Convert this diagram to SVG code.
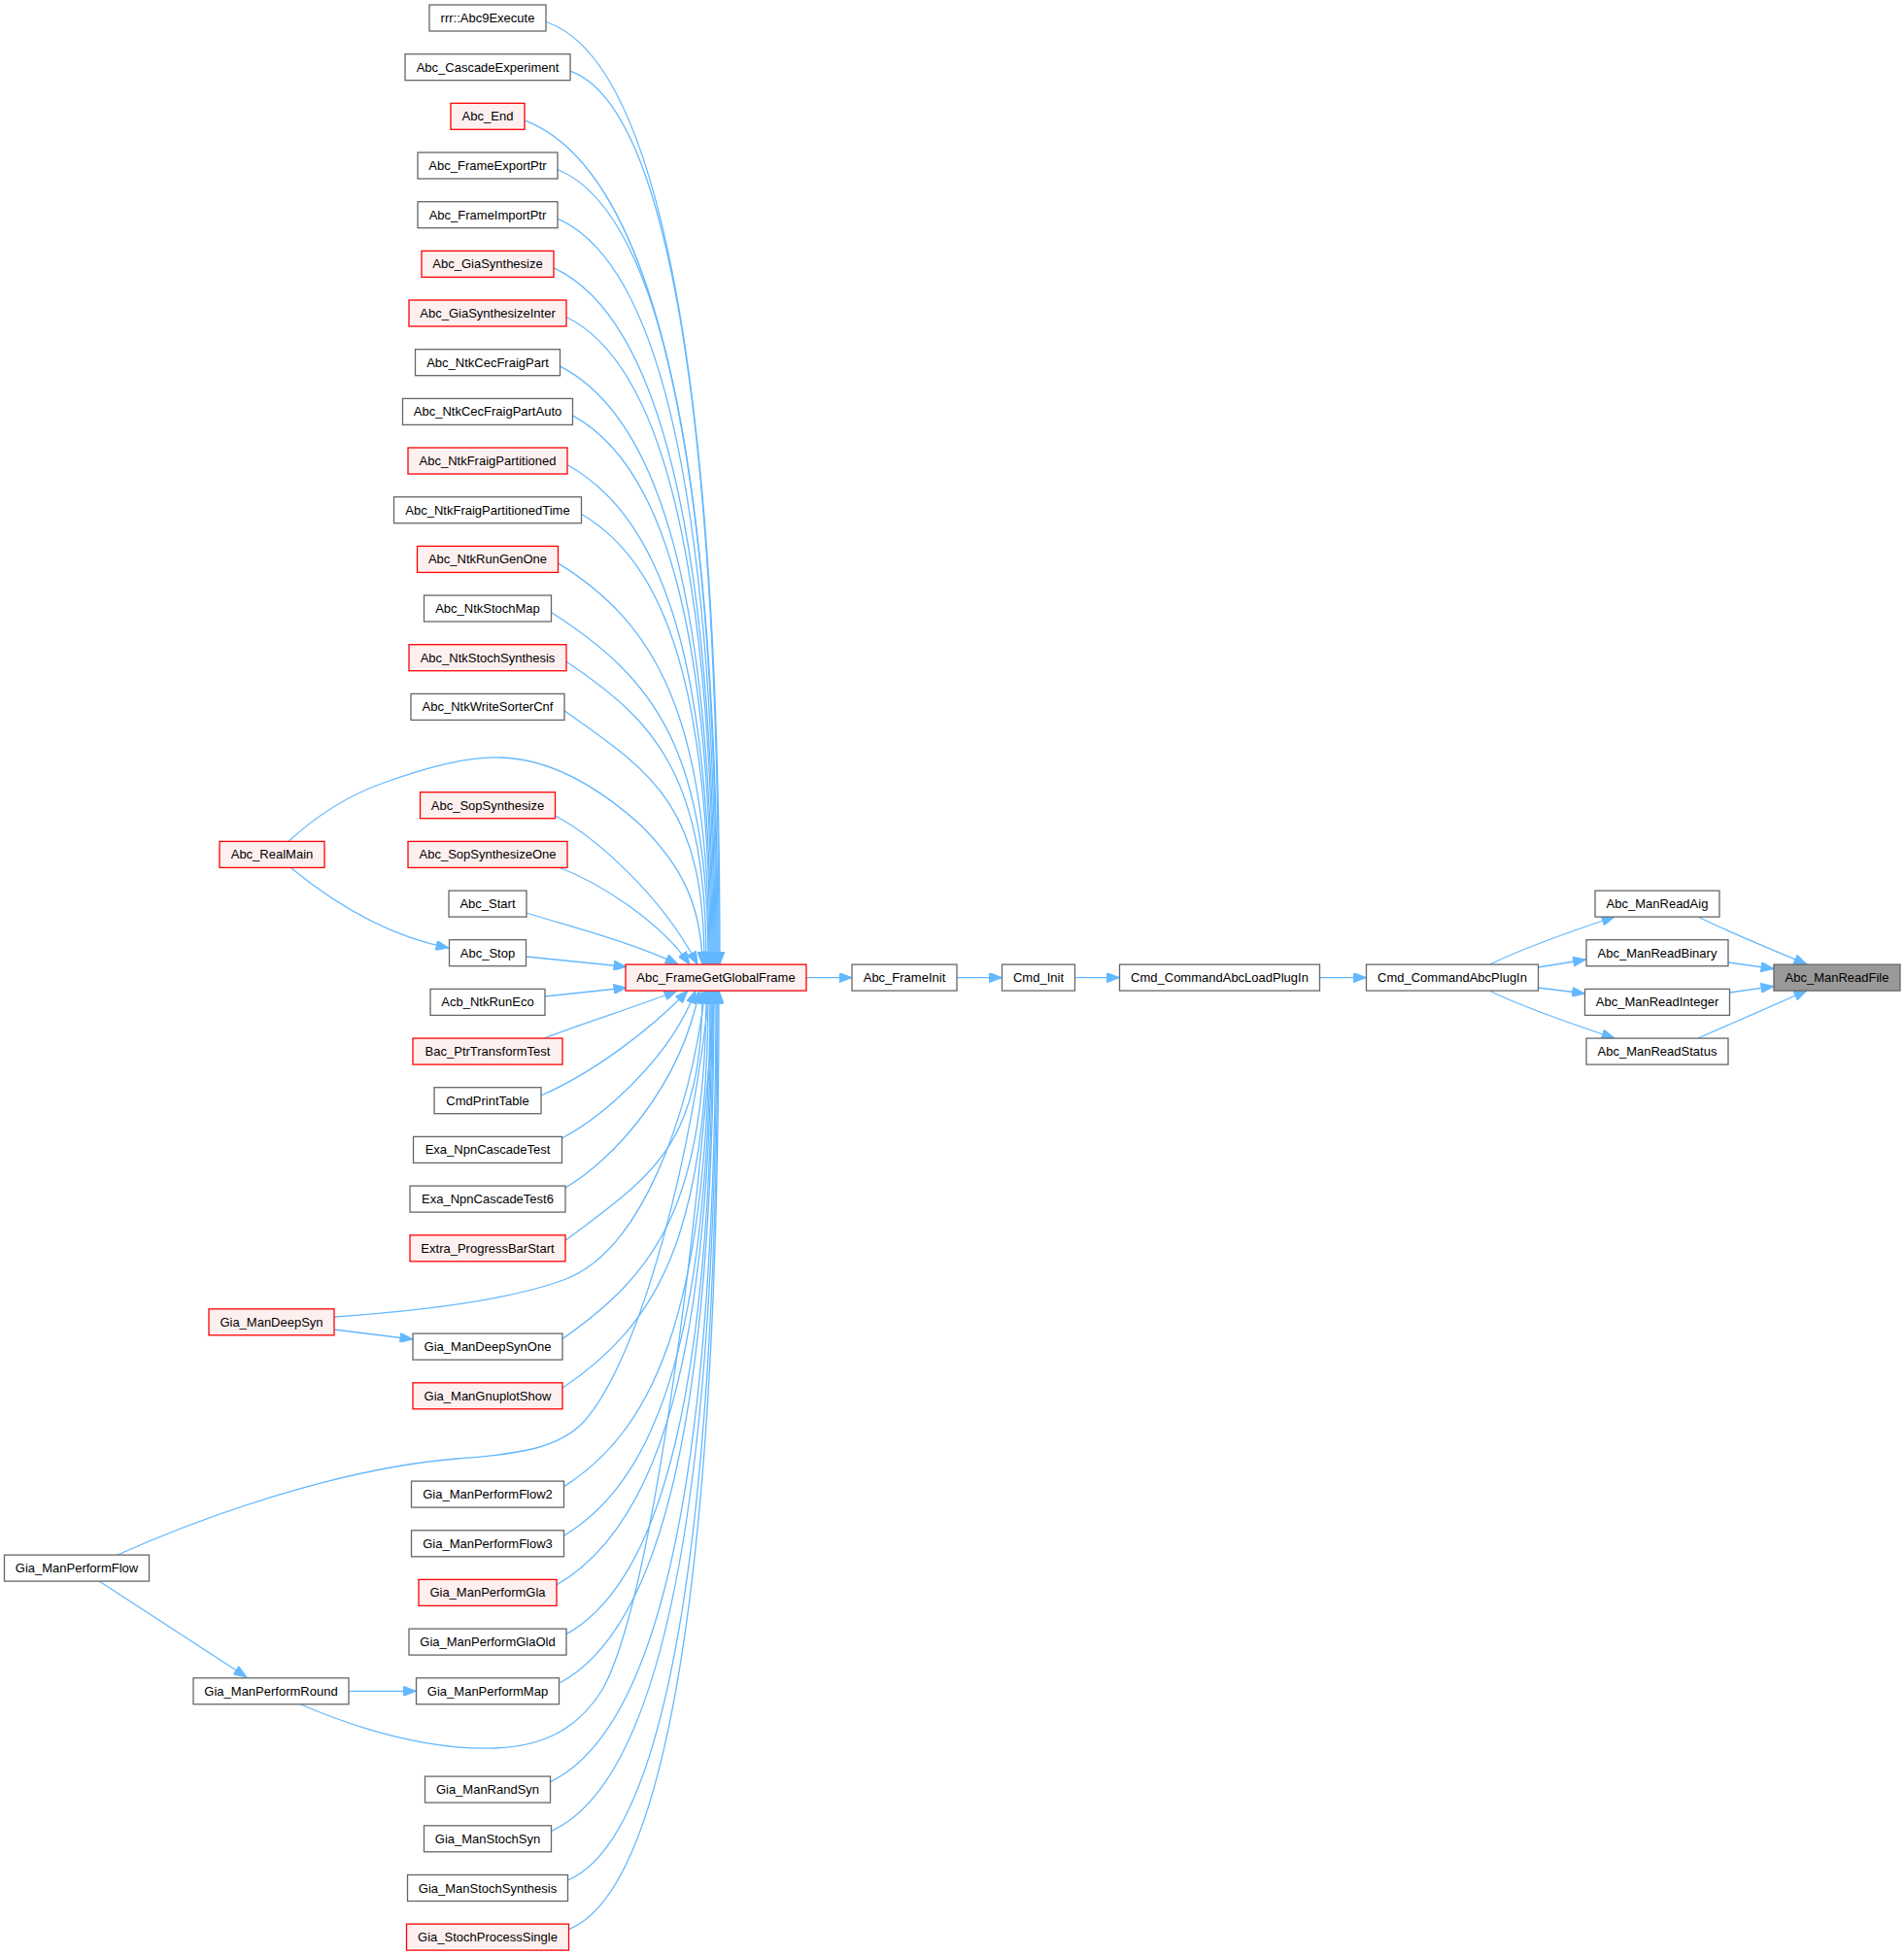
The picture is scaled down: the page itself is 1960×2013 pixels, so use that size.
<svg xmlns="http://www.w3.org/2000/svg" width="1960" height="2013" viewBox="0 0 1960 2013">
<style>
.node rect{fill:#ffffff;stroke:#666666;stroke-width:1.3}
.red rect{fill:#fff0f0;stroke:#ff0000;stroke-width:1.3}
.sel rect{fill:#999999;stroke:#666666;stroke-width:1.3}
text{font-family:"Liberation Sans",Arial,Helvetica,sans-serif;font-size:13px;fill:#000000;text-anchor:middle}
.edges path{fill:none;stroke:#63b8ff;stroke-width:1.3;marker-end:url(#ah)}
</style>
<defs>
<marker id="ah" markerUnits="userSpaceOnUse" markerWidth="14" markerHeight="10" viewBox="0 0 13 10" refX="13" refY="5" orient="auto">
<path d="M0,0 L13,5 L0,10 z" fill="#63b8ff" stroke="#63b8ff" stroke-width="1"/>
</marker>
</defs>
<rect width="1960" height="2013" fill="#ffffff"/>
<g class="edges" id="edges">
<path d="M562,22.5 C678.4,60.9 741,391.3 741,993"/>
<path d="M587,73.2 C686.5,108.6 740,422.7 740,993"/>
<path d="M540,123.8 C669.4,173.2 739,454.1 739,993"/>
<path d="M574,174.5 C680.6,218.1 738,485.5 738,993"/>
<path d="M574,225.2 C680,271.3 737,517 737,993"/>
<path d="M570,275.9 C677.9,325.7 736,548.4 736,993"/>
<path d="M583,326.5 C681.8,374.7 735,579.8 735,993"/>
<path d="M576.5,377.2 C678.9,429.8 734,611.2 734,993"/>
<path d="M589.5,427.9 C682.8,478.4 733,642.6 733,993"/>
<path d="M584,478.5 C680.2,533 732,674 732,993"/>
<path d="M598.5,529.2 C684.6,580.3 731,705.4 731,993"/>
<path d="M574.5,579.9 C675.6,642.6 730,736.9 730,993"/>
<path d="M567.5,630.5 C672.5,698.4 729,768.2 729,993"/>
<path d="M583,681.2 C676.6,744.2 727,799.7 727,993"/>
<path d="M581,731.9 C674.6,797.4 725,831.1 725,993"/>
<path d="M297,866.5 C320,845 350,822 395,806 C440,790 480,779 515,780 C560,781 610,805 660,850 C700,890 722,930 723,993"/>
<path d="M571.5,840 C610,860 680,920 718,993"/>
<path d="M575,893 C620,910 680,950 710,993"/>
<path d="M542,940 C590,955 650,970 698,993"/>
<path d="M300,894 C350,935 405,965 462,976"/>
<path d="M541.5,985 L645,995.5"/>
<path d="M561,1026 L645,1017"/>
<path d="M560,1069 C610,1050 660,1035 697,1020"/>
<path d="M557,1128 C610,1105 670,1060 708,1020"/>
<path d="M578.5,1172 C620,1150 690,1090 716,1020"/>
<path d="M582,1223 C630,1195 700,1120 720,1020"/>
<path d="M582,1277.3 C673.7,1208.5 723,1179.5 723,1020"/>
<path d="M344,1356 C430,1350 520,1340 580,1318 C660,1289 710,1150 726,1020"/>
<path d="M344,1369 L425,1379"/>
<path d="M579,1378.6 C675.2,1310.8 727,1242.3 727,1020"/>
<path d="M579,1429.3 C676.5,1363 729,1273.8 729,1020"/>
<path d="M121,1601 C240,1548 370,1510 470,1502 C540,1497 575,1490 600,1465 C660,1400 715,1180 730,1020"/>
<path d="M102,1628 L254,1727"/>
<path d="M580.5,1530.6 C678.3,1469.1 731,1336.6 731,1020"/>
<path d="M580.5,1581.3 C679,1521.8 732,1368 732,1020"/>
<path d="M573,1631.9 C677,1571.7 733,1399.4 733,1020"/>
<path d="M583,1682.6 C681.2,1628.3 734,1430.8 734,1020"/>
<path d="M575.5,1733.3 C679.2,1678.5 735,1462.2 735,1020"/>
<path d="M358,1741.3 L428.5,1741.3"/>
<path d="M309.5,1755 C380,1785 450,1802 510,1800 C560,1798 595,1780 620,1740 C670,1650 715,1300 736,1020"/>
<path d="M566.5,1834.6 C677.3,1781.7 737,1525 737,1020"/>
<path d="M567.5,1885.3 C678.3,1835.2 738,1556.5 738,1020"/>
<path d="M584.5,1936 C684.9,1893.1 739,1587.9 739,1020"/>
<path d="M585.5,1986.6 C685.9,1946.4 740,1619.3 740,1020"/>
<path d="M830,1006.6 L877,1006.6"/>
<path d="M985,1006.6 L1031.5,1006.6"/>
<path d="M1106.5,1006.6 L1152.5,1006.6"/>
<path d="M1358.5,1006.6 L1406.5,1006.6"/>
<path d="M1534,993 C1570,975 1620,958 1662,944"/>
<path d="M1583.5,996 L1632.5,988"/>
<path d="M1583.5,1017 L1631.5,1023"/>
<path d="M1534,1020.5 C1570,1038 1620,1055 1662,1069"/>
<path d="M1748,944 C1780,960 1830,980 1860,993"/>
<path d="M1779,991 L1826,997.5"/>
<path d="M1780.5,1022 L1826,1015.5"/>
<path d="M1748,1069 C1780,1055 1830,1033 1860,1020"/>
</g>
<g id="n0" class="node"><rect x="442" y="5" width="120" height="27"/><text x="502" y="23">rrr::Abc9Execute</text></g>
<g id="n1" class="node"><rect x="417" y="55.7" width="170" height="27"/><text x="502" y="73.7">Abc_CascadeExperiment</text></g>
<g id="n2" class="red"><rect x="464" y="106.3" width="76" height="27"/><text x="502" y="124.3">Abc_End</text></g>
<g id="n3" class="node"><rect x="430" y="157" width="144" height="27"/><text x="502" y="175">Abc_FrameExportPtr</text></g>
<g id="n4" class="node"><rect x="430" y="207.7" width="144" height="27"/><text x="502" y="225.7">Abc_FrameImportPtr</text></g>
<g id="n5" class="red"><rect x="434" y="258.4" width="136" height="27"/><text x="502" y="276.4">Abc_GiaSynthesize</text></g>
<g id="n6" class="red"><rect x="421" y="309" width="162" height="27"/><text x="502" y="327">Abc_GiaSynthesizeInter</text></g>
<g id="n7" class="node"><rect x="427.5" y="359.7" width="149" height="27"/><text x="502" y="377.7">Abc_NtkCecFraigPart</text></g>
<g id="n8" class="node"><rect x="414.5" y="410.4" width="175" height="27"/><text x="502" y="428.4">Abc_NtkCecFraigPartAuto</text></g>
<g id="n9" class="red"><rect x="420" y="461" width="164" height="27"/><text x="502" y="479">Abc_NtkFraigPartitioned</text></g>
<g id="n10" class="node"><rect x="405.5" y="511.7" width="193" height="27"/><text x="502" y="529.7">Abc_NtkFraigPartitionedTime</text></g>
<g id="n11" class="red"><rect x="429.5" y="562.4" width="145" height="27"/><text x="502" y="580.4">Abc_NtkRunGenOne</text></g>
<g id="n12" class="node"><rect x="436.5" y="613" width="131" height="27"/><text x="502" y="631">Abc_NtkStochMap</text></g>
<g id="n13" class="red"><rect x="421" y="663.7" width="162" height="27"/><text x="502" y="681.7">Abc_NtkStochSynthesis</text></g>
<g id="n14" class="node"><rect x="423" y="714.4" width="158" height="27"/><text x="502" y="732.4">Abc_NtkWriteSorterCnf</text></g>
<g id="n16" class="red"><rect x="432.5" y="815.7" width="139" height="27"/><text x="502" y="833.7">Abc_SopSynthesize</text></g>
<g id="n17" class="red"><rect x="420" y="866.4" width="164" height="27"/><text x="502" y="884.4">Abc_SopSynthesizeOne</text></g>
<g id="n18" class="node"><rect x="462" y="917.1" width="80" height="27"/><text x="502" y="935.1">Abc_Start</text></g>
<g id="n19" class="node"><rect x="462.5" y="967.7" width="79" height="27"/><text x="502" y="985.7">Abc_Stop</text></g>
<g id="n20" class="node"><rect x="443" y="1018.4" width="118" height="27"/><text x="502" y="1036.4">Acb_NtkRunEco</text></g>
<g id="n21" class="red"><rect x="425" y="1069.1" width="154" height="27"/><text x="502" y="1087.1">Bac_PtrTransformTest</text></g>
<g id="n22" class="node"><rect x="447" y="1119.7" width="110" height="27"/><text x="502" y="1137.7">CmdPrintTable</text></g>
<g id="n23" class="node"><rect x="425.5" y="1170.4" width="153" height="27"/><text x="502" y="1188.4">Exa_NpnCascadeTest</text></g>
<g id="n24" class="node"><rect x="422" y="1221.1" width="160" height="27"/><text x="502" y="1239.1">Exa_NpnCascadeTest6</text></g>
<g id="n25" class="red"><rect x="422" y="1271.8" width="160" height="27"/><text x="502" y="1289.8">Extra_ProgressBarStart</text></g>
<g id="n27" class="node"><rect x="425" y="1373.1" width="154" height="27"/><text x="502" y="1391.1">Gia_ManDeepSynOne</text></g>
<g id="n28" class="red"><rect x="425" y="1423.8" width="154" height="27"/><text x="502" y="1441.8">Gia_ManGnuplotShow</text></g>
<g id="n30" class="node"><rect x="423.5" y="1525.1" width="157" height="27"/><text x="502" y="1543.1">Gia_ManPerformFlow2</text></g>
<g id="n31" class="node"><rect x="423.5" y="1575.8" width="157" height="27"/><text x="502" y="1593.8">Gia_ManPerformFlow3</text></g>
<g id="n32" class="red"><rect x="431" y="1626.4" width="142" height="27"/><text x="502" y="1644.4">Gia_ManPerformGla</text></g>
<g id="n33" class="node"><rect x="421" y="1677.1" width="162" height="27"/><text x="502" y="1695.1">Gia_ManPerformGlaOld</text></g>
<g id="n34" class="node"><rect x="428.5" y="1727.8" width="147" height="27"/><text x="502" y="1745.8">Gia_ManPerformMap</text></g>
<g id="n36" class="node"><rect x="437.5" y="1829.1" width="129" height="27"/><text x="502" y="1847.1">Gia_ManRandSyn</text></g>
<g id="n37" class="node"><rect x="436.5" y="1879.8" width="131" height="27"/><text x="502" y="1897.8">Gia_ManStochSyn</text></g>
<g id="n38" class="node"><rect x="419.5" y="1930.5" width="165" height="27"/><text x="502" y="1948.5">Gia_ManStochSynthesis</text></g>
<g id="n39" class="red"><rect x="418.5" y="1981.1" width="167" height="27"/><text x="502" y="1999.1">Gia_StochProcessSingle</text></g>
<g id="realmain" class="red"><rect x="226" y="866.4" width="108" height="27"/><text x="280" y="884.4">Abc_RealMain</text></g>
<g id="deepsyn" class="red"><rect x="215" y="1347.8" width="129" height="27"/><text x="279.5" y="1365.8">Gia_ManDeepSyn</text></g>
<g id="performflow" class="node"><rect x="4.5" y="1601.1" width="149" height="27"/><text x="79" y="1619.1">Gia_ManPerformFlow</text></g>
<g id="performround" class="node"><rect x="199" y="1727.8" width="160" height="27"/><text x="279" y="1745.8">Gia_ManPerformRound</text></g>
<g id="globalframe" class="red"><rect x="644" y="993.1" width="186" height="27"/><text x="737" y="1011.1">Abc_FrameGetGlobalFrame</text></g>
<g id="frameinit" class="node"><rect x="877" y="993.1" width="108" height="27"/><text x="931" y="1011.1">Abc_FrameInit</text></g>
<g id="cmdinit" class="node"><rect x="1031.5" y="993.1" width="75" height="27"/><text x="1069" y="1011.1">Cmd_Init</text></g>
<g id="loadplugin" class="node"><rect x="1152.5" y="993.1" width="206" height="27"/><text x="1255.5" y="1011.1">Cmd_CommandAbcLoadPlugIn</text></g>
<g id="plugin" class="node"><rect x="1406.5" y="993.1" width="177" height="27"/><text x="1495" y="1011.1">Cmd_CommandAbcPlugIn</text></g>
<g id="readaig" class="node"><rect x="1642" y="917.1" width="128" height="27"/><text x="1706" y="935.1">Abc_ManReadAig</text></g>
<g id="readbinary" class="node"><rect x="1633" y="967.7" width="146" height="27"/><text x="1706" y="985.7">Abc_ManReadBinary</text></g>
<g id="readinteger" class="node"><rect x="1631.5" y="1018.4" width="149" height="27"/><text x="1706" y="1036.4">Abc_ManReadInteger</text></g>
<g id="readstatus" class="node"><rect x="1633" y="1069.1" width="146" height="27"/><text x="1706" y="1087.1">Abc_ManReadStatus</text></g>
<g id="readfile" class="sel"><rect x="1826" y="993.1" width="130" height="27"/><text x="1891" y="1011.1">Abc_ManReadFile</text></g>
</svg>
